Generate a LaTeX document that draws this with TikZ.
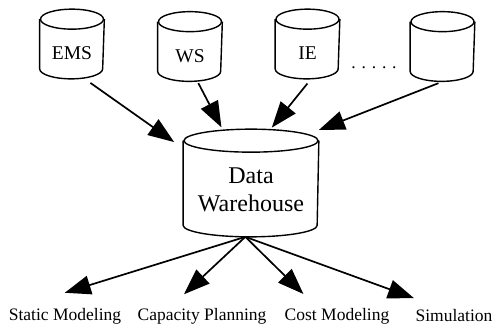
\documentclass[tikz,border=0pt]{standalone}
\usepackage{fontspec}
\setmainfont{Liberation Serif}
\usetikzlibrary{arrows.meta, positioning}

% outline of a database drum round node #1 (x radius #2, y radius #3)
\newcommand{\dbdraw}[3]{%
  \draw[-,line width=1.4pt] ([yshift=-#3]#1.north west) -- ([yshift=#3]#1.south west)
        arc[start angle=180,end angle=360,x radius=#2,y radius=#3] -- ([yshift=-#3]#1.north east);
  \draw[-,line width=1.4pt] ([yshift=-#3]#1.north) ellipse[x radius=#2,y radius=#3];
}

\begin{document}
\begin{tikzpicture}[x=1pt,y=-1pt,->,>={Triangle[length=26pt,width=19pt]},line width=1.7pt]
        \tikzstyle{db}=[inner sep=0pt,minimum width=63pt,minimum height=68pt,
                        text height=33pt,text depth=2pt,font=\fontsize{19.5}{23}\selectfont]
        \tikzstyle{task}=[inner sep=2pt,font=\fontsize{17.5}{21}\selectfont]

        \useasboundingbox (0,0) rectangle (495,327);

        % sources
        \node[db] (ems)   at (72,44)      {EMS};
        \node[db] (ws)    at (190,46.5)   {WS};
        \node[db] (ie)    at (307.5,44)   {IE};
        \node[db] (other) at (442.5,46.5) {};
        \node[task] (dots) at (374,68) {. . . . .};

        % warehouse
        \node[db, minimum width=134pt, minimum height=106pt, align=center,
              text height=60pt, text depth=4pt,
              font=\fontsize{24}{28}\selectfont] (dw) at (251,183) {Data\\Warehouse};

        \dbdraw{ems}{31.5pt}{10pt}
        \dbdraw{ws}{31.5pt}{10pt}
        \dbdraw{ie}{31.5pt}{10pt}
        \dbdraw{other}{31.5pt}{10pt}
        \dbdraw{dw}{67pt}{11.5pt}

        % applications
        \node[task] (static) at (65,316)  {Static Modeling};
        \node[task] (capac)  at (202,316) {Capacity Planning};
        \node[task] (cost)   at (337,316) {Cost Modeling};
        \node[task] (simul)  at (454,316) {Simulation};

        \path (ems.-70)   edge[shorten <=7pt, shorten >=11pt] (dw.153)
              (ws.-78)    edge[shorten <=2pt, shorten >=2pt]  (dw.118)
              (ie.-84)    edge[shorten <=6pt, shorten >=2pt]  (dw.70)
              (other.-89) edge[shorten <=5pt]                 (dw.38);

        \path (dw.-96) edge[shorten >=42pt] (static.165)
                       edge[shorten >=16pt] (capac.160)
                       edge[shorten >=16pt] (cost.154)
                       edge[shorten >=26pt] (simul.150);
\end{tikzpicture}
\end{document}
